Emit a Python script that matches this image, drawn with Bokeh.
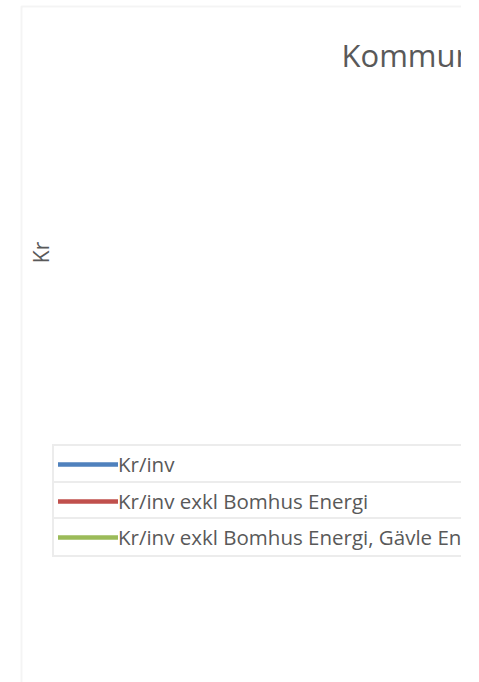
import math
from bokeh.plotting import figure
from bokeh.models import Legend, LegendItem, Label, BoxAnnotation
from bokeh.embed import file_html
from bokeh.resources import INLINE

# ---- data (no data points are visible in the reference chart) ----
years = []
kr_inv = []
kr_inv_exkl_bomhus = []
kr_inv_exkl_bomhus_gavle = []

title_text = "Kommun"
y_axis_title = "Kr"
series_names = [
    "Kr/inv",
    "Kr/inv exkl Bomhus Energi",
    "Kr/inv exkl Bomhus Energi, Gävle Energi",
]
series_colors = ["#4F81BD", "#C0504D", "#9BBB59"]

W, H = 461, 682
TEXT = "#595959"
BORDER = "#D9D9D9"

p = figure(width=W, height=H, x_range=(0, W), y_range=(0, H),
           output_backend="svg", toolbar_location=None, min_border=0,
           outline_line_color=None, background_fill_color="white",
           border_fill_color="white")
p.axis.visible = False
p.grid.visible = False

# chart-area border (cropped on the right and bottom)
p.add_layout(BoxAnnotation(left=21, right=W + 20, bottom=-20, top=H - 6,
                           fill_alpha=0, line_color=BORDER, line_width=2))

# series: nothing is visible, so an empty series keeps a NaN placeholder
# only so that the legend swatch is drawn
renderers = []
for ys, c in zip([kr_inv, kr_inv_exkl_bomhus, kr_inv_exkl_bomhus_gavle], series_colors):
    xs = years if years else [float("nan")]
    yv = ys if ys else [float("nan")]
    r = p.line(x=xs, y=yv, line_color=c, line_width=4.5, line_cap="round")
    renderers.append(r)

# title
p.add_layout(Label(x=341, y=H - 54, text=title_text, text_font="Open Sans",
                   text_font_size="31px", text_color=TEXT,
                   text_baseline="alphabetic", text_align="left"))

# y-axis title
p.add_layout(Label(x=40.5, y=H - 252, text=y_axis_title, angle=math.pi / 2,
                   text_font="Open Sans", text_font_size="21px", text_color=TEXT,
                   text_align="center", text_baseline="middle"))

# legend: one bordered box per row, stacked like a table
bottoms = [H - 484, H - 520.5, H - 557]
for name, r, b in zip(series_names, renderers, bottoms):
    lg = Legend(items=[LegendItem(label=name, renderers=[r])],
                location=(52, b), orientation="vertical",
                padding=4, margin=0, spacing=0,
                glyph_width=60, glyph_height=26, label_height=26,
                label_width=520, label_standoff=0,
                label_text_font="Open Sans", label_text_font_size="20.5px",
                label_text_color=TEXT, label_text_baseline="middle",
                border_line_color=BORDER, border_line_width=2,
                background_fill_color="white", background_fill_alpha=1)
    p.add_layout(lg, "center")

open("out.html", "w").write(file_html(p, INLINE))
